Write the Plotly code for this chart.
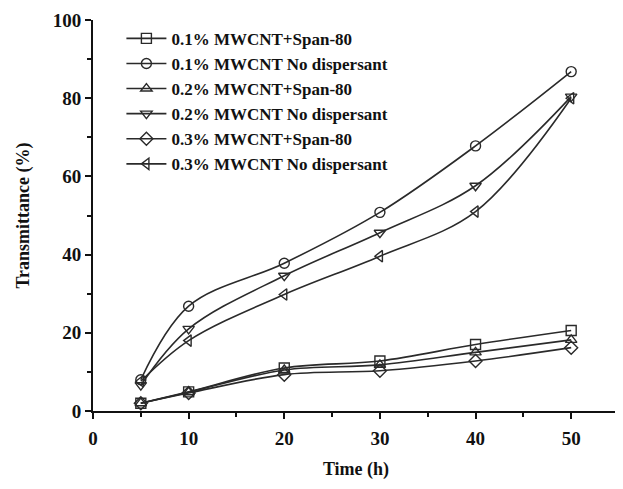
import plotly.graph_objects as go

time_h = [5, 10, 20, 30, 40, 50]

s01_span = [2.0, 4.9, 11.0, 12.8, 17.0, 20.6]
s01_nodisp = [8.0, 26.8, 37.8, 50.8, 67.8, 86.8]
s02_span = [2.0, 4.8, 10.5, 11.8, 15.0, 18.2]
s02_nodisp = [6.6, 21.0, 34.6, 45.6, 57.6, 80.4]
s03_span = [2.0, 4.6, 9.3, 10.3, 12.8, 16.2]
s03_nodisp = [7.6, 18.0, 29.8, 39.6, 51.0, 80.0]

series = [
    ("0.1% MWCNT+Span-80", s01_span, "square-open"),
    ("0.1% MWCNT No dispersant", s01_nodisp, "circle-open"),
    ("0.2% MWCNT+Span-80", s02_span, "triangle-up-open"),
    ("0.2% MWCNT No dispersant", s02_nodisp, "triangle-down-open"),
    ("0.3% MWCNT+Span-80", s03_span, "diamond-open"),
    ("0.3% MWCNT No dispersant", s03_nodisp, "triangle-left-open"),
]

fig = go.Figure()
for name, vals, sym in series:
    fig.add_trace(go.Scatter(
        x=time_h, y=vals, name=name, mode="lines+markers",
        line=dict(color="#2a2a2a", width=1.6, shape="spline", smoothing=1.0),
        marker=dict(symbol=sym, size=10, color="#2a2a2a",
                    line=dict(width=1.4, color="#2a2a2a")),
    ))

font_family = "Liberation Serif, Times New Roman, serif"
fig.update_layout(
    width=615, height=481,
    margin=dict(l=85, r=4, t=12, b=78),
    paper_bgcolor="white", plot_bgcolor="white",
    font=dict(family=font_family, size=17, color="#111"),
    showlegend=True,
    legend=dict(x=0.054, y=0.998, xanchor="left", yanchor="top",
                bgcolor="rgba(0,0,0,0)",
                font=dict(size=17, family=font_family, color="#111", weight="bold"),
                tracegroupgap=0, itemwidth=40),
    xaxis=dict(range=[0, 55], dtick=10, tick0=0, showgrid=False, zeroline=False,
               automargin=False,
               showline=True, linecolor="#111", linewidth=2,
               ticks="outside", ticklen=6, tickwidth=2, tickcolor="#111",
               minor=dict(ticks="outside", ticklen=4, tickwidth=2, dtick=5, tickcolor="#111"),
               title=dict(text="<b>Time (h)</b>", font=dict(size=18), standoff=15),
               tickfont=dict(size=19, weight="bold"), ticklabelstandoff=3),
    yaxis=dict(range=[0, 100], dtick=20, tick0=0, showgrid=False, zeroline=False,
               automargin=False,
               showline=True, linecolor="#111", linewidth=2,
               ticks="outside", ticklen=6, tickwidth=2, tickcolor="#111",
               minor=dict(ticks="outside", ticklen=4, tickwidth=2, dtick=10, tickcolor="#111"),
               title=dict(text="<b>Transmittance (%)</b>", font=dict(size=18), standoff=18),
               tickfont=dict(size=19, weight="bold")),
)

fig.write_html("out.html")
